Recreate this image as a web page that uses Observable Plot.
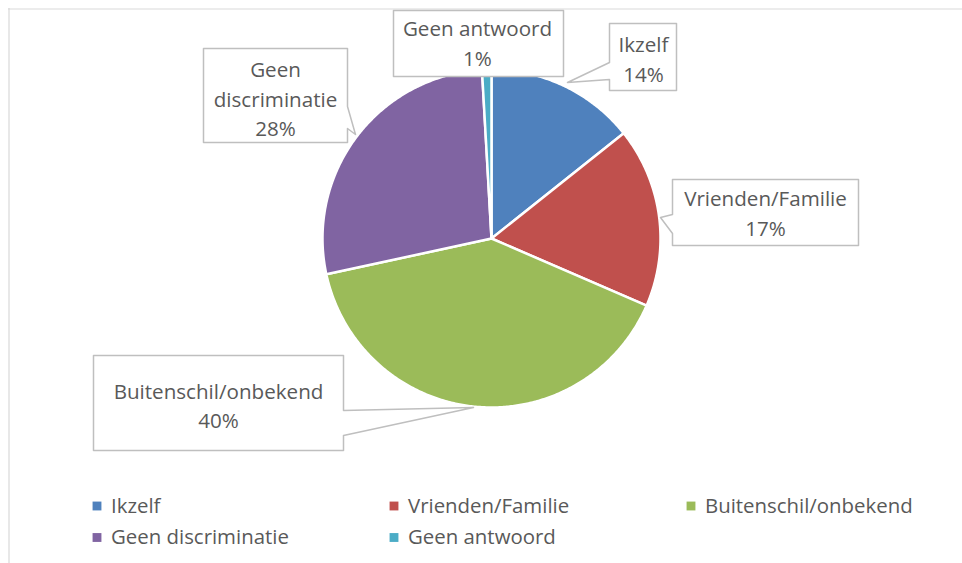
<!DOCTYPE html>
<html><head><meta charset="utf-8">
<script src="https://cdn.jsdelivr.net/npm/d3@7"></script>
<script src="https://cdn.jsdelivr.net/npm/@observablehq/plot@0.6"></script>
<style>html,body{margin:0;padding:0;background:#fff;} #chart svg{display:block;}</style>
</head><body><div id="chart"></div>
<script>
// ---- data ----
const categories = ["Ikzelf", "Vrienden/Familie", "Buitenschil/onbekend", "Geen discriminatie", "Geen antwoord"];
const shares = [14.3, 17.2, 40.1, 27.5, 0.9];
const percentLabels = ["14%", "17%", "40%", "28%", "1%"];
const sliceColors = ["#4F81BD", "#C0504D", "#9BBB59", "#8064A2", "#4BACC6"];

// ---- layout (pixels) ----
const W = 962, H = 563;
const PIE = {cx: 491, cy: 238, r: 169};
const FONT = "'Open Sans', Lato, sans-serif";
const TEXT = "#595959";
// callout outlines (box + wedge) and label centers
const callouts = {
  "Ikzelf": {pts: [[609,23],[676,23],[676,90],[609,90],[609,79],[567,82],[609,62],[609,23]], tx: 643, ty: 57, wrap: false},
  "Vrienden/Familie": {pts: [[672,179],[858,179],[858,245],[672,245],[672,233],[660,217],[672,214],[672,179]], tx: 765, ty: 211, wrap: false},
  "Buitenschil/onbekend": {pts: [[93,355],[343,355],[343,410],[473,407],[343,435],[343,450],[93,450],[93,355]], tx: 218, ty: 403.5, wrap: false},
  "Geen discriminatie": {pts: [[203,48],[347,48],[347,106],[355,134],[347,128],[347,142],[203,142],[203,48]], tx: 275, ty: 96.5, wrap: true},
  "Geen antwoord": {pts: [[393,10],[563,10],[563,76],[393,76],[393,10]], tx: 477, ty: 41, wrap: false}
};
const legendCol = [0, 1, 2, 0, 1];
const legendRow = [0, 0, 0, 1, 1];
const legendX = [96.5, 393.5, 690.5];
const legendY = [505.5, 537];

// ---- pie geometry from data ----
const total = d3.sum(shares);
const pieRows = [];
let acc = 0;
categories.forEach((c, i) => {
  const a0 = acc / total * 2 * Math.PI;
  acc += shares[i];
  const a1 = acc / total * 2 * Math.PI;
  const n = Math.max(2, Math.ceil((a1 - a0) / (Math.PI / 360)));
  pieRows.push({name: c, x: PIE.cx, y: PIE.cy});
  for (let k = 0; k <= n; k++) {
    const a = a0 + (a1 - a0) * k / n;
    pieRows.push({name: c, x: PIE.cx + PIE.r * Math.sin(a), y: PIE.cy - PIE.r * Math.cos(a)});
  }
  pieRows.push({name: c, x: PIE.cx, y: PIE.cy});
});

const calloutRows = [];
categories.forEach(c => callouts[c].pts.forEach(([x, y]) => calloutRows.push({name: c, x, y})));
const labelRows = categories.map((c, i) => ({
  x: callouts[c].tx, y: callouts[c].ty,
  text: (callouts[c].wrap ? c.replace(" ", "\n") : c) + "\n" + percentLabels[i]
}));
const legendRows = categories.map((c, i) => ({name: c, x: legendX[legendCol[i]], y: legendY[legendRow[i]]}));

const chart = Plot.plot({
  width: W, height: H,
  margin: 0,
  x: {domain: [0, W], range: [0, W], axis: null},
  y: {domain: [0, H], range: [0, H], axis: null},
  color: {domain: categories, range: sliceColors},
  marks: [
    Plot.ruleY([8.5], {x1: 8, x2: W, stroke: "#d9d9d9", strokeWidth: 1.2}),
    Plot.ruleX([8.5], {y1: 8, y2: H, stroke: "#d9d9d9", strokeWidth: 1.2}),
    Plot.line(pieRows, {x: "x", y: "y", z: "name", fill: "name", stroke: "white", strokeWidth: 2.5, strokeLinejoin: "round"}),
    Plot.line(calloutRows, {x: "x", y: "y", z: "name", fill: "white", stroke: "#bfbfbf", strokeWidth: 1.5}),
    Plot.text(labelRows, {x: "x", y: "y", text: "text", fontSize: 20.6, lineHeight: 1.44, fill: TEXT, fontFamily: FONT}),
    Plot.dot(legendRows, {x: "x", y: "y", symbol: "square", r: 5, fill: "name", stroke: null}),
    Plot.text(legendRows, {x: d => d.x + 14, y: "y", text: "name", textAnchor: "start", fontSize: 20.4, fill: TEXT, fontFamily: FONT})
  ]
});
document.getElementById("chart").appendChild(chart);
</script>
</body></html>
